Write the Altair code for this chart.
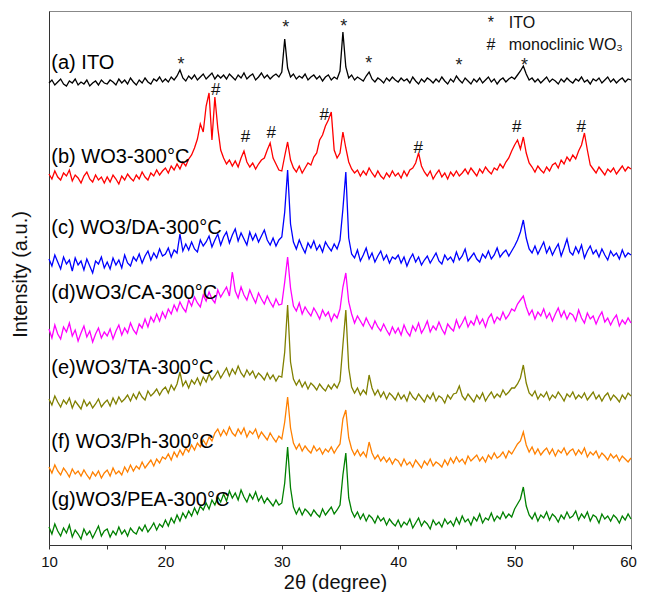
import altair as alt
import pandas as pd

# 2-theta sampling grid (degrees), 0.25 deg step from 10 to 60
TWO_THETA = [10 + 0.25 * i for i in range(201)]

# Intensities (arbitrary units, offset traces)
ITO = [
    462, 465, 460, 463, 466, 461, 459, 464, 462, 466, 460, 463, 461, 465, 459, 462, 464, 460, 465, 462,
    461, 465, 463, 460, 466, 462, 465, 461, 467, 463, 460, 465, 462, 467, 463, 461, 466, 464, 468, 463,
    466, 463, 468, 465, 469, 475, 467, 464, 469, 466, 470, 465, 468, 471, 466, 469, 472, 466, 470, 467,
    470, 466, 471, 468, 465, 470, 467, 472, 466, 469, 471, 465, 468, 472, 467, 470, 466, 469, 471, 468,
    473, 506, 477, 468, 471, 466, 469, 467, 471, 465, 468, 470, 466, 469, 464, 468, 470, 465, 468, 466,
    474, 513, 478, 467, 470, 465, 468, 466, 464, 469, 473, 466, 463, 467, 465, 462, 467, 464, 468, 465,
    463, 467, 464, 466, 462, 468, 464, 461, 466, 463, 467, 465, 462, 466, 463, 468, 464, 461, 466, 463,
    469, 465, 462, 467, 464, 461, 466, 463, 467, 462, 465, 468, 463, 466, 461, 465, 467, 463, 466, 468,
    466, 470, 474, 479, 471, 465, 467, 463, 466, 462, 465, 468, 463, 466, 464, 461, 466, 463, 467, 464,
    462, 466, 464, 468, 463, 465, 461, 466, 464, 467, 462, 465, 468, 463, 466, 462, 465, 467, 463, 466,
    465,
]
WO3 = [
    371, 366, 374, 368, 365, 372, 369, 375, 364, 370, 367, 362, 369, 373, 366, 363, 370, 365, 368, 362,
    368, 363, 370, 366, 361, 369, 365, 371, 367, 364, 370, 366, 373, 368, 365, 372, 369, 375, 370, 374,
    377, 372, 379, 375, 381, 376, 383, 379, 386, 390, 397, 406, 421, 413, 439, 452, 405, 448, 417, 395,
    387, 381, 385, 379, 384, 378, 387, 394, 383, 378, 382, 376, 381, 385, 387, 395, 402, 387, 381, 375,
    374, 389, 403, 385, 377, 373, 379, 372, 377, 382, 380, 388, 392, 405, 410, 419, 425, 433, 395, 387,
    392, 413, 397, 383, 376, 372, 375, 369, 374, 370, 377, 372, 368, 374, 369, 366, 372, 368, 374, 369,
    372, 367, 374, 369, 375, 377, 382, 392, 379, 373, 369, 374, 366, 371, 375, 368, 372, 366, 373, 369,
    374, 369, 372, 376, 371, 377, 373, 369, 376, 372, 378, 374, 371, 377, 375, 381, 377, 383, 387, 394,
    400, 405, 396, 408, 392, 382, 378, 373, 379, 375, 372, 378, 374, 380, 382, 377, 385, 381, 388, 384,
    390, 386, 394, 400, 412, 395, 380, 376, 372, 378, 374, 370, 376, 373, 377, 371, 375, 379, 374, 378,
    376,
]
DA = [
    286, 279, 290, 283, 276, 288, 281, 285, 274, 287, 280, 284, 275, 286, 279, 272, 284, 281, 288, 277,
    283, 276, 287, 280, 285, 277, 290, 282, 279, 288, 284, 291, 282, 289, 294, 285, 292, 287, 296, 289,
    291, 297, 288, 295, 292, 311, 294, 301, 295, 303, 296, 293, 305, 299, 303, 309, 298, 305, 311, 300,
    308, 313, 302, 310, 316, 304, 312, 306, 300, 313, 305, 311, 303, 309, 315, 305, 300, 307, 299, 305,
    308, 333, 375, 321, 303, 296, 305, 298, 292, 302, 297, 304, 295, 300, 293, 303, 298, 294, 301, 296,
    305, 336, 373, 307, 291, 287, 295, 284, 290, 297, 286, 292, 283, 289, 294, 285, 290, 282, 288, 286,
    290, 282, 288, 279, 286, 291, 283, 288, 280, 285, 289, 282, 287, 292, 284, 281, 290, 285, 288, 283,
    293, 285, 289, 296, 284, 288, 292, 286, 283, 291, 287, 294, 286, 290, 297, 288, 292, 295, 289, 294,
    299, 305, 313, 325, 307, 296, 292, 299, 291, 297, 303, 292, 298, 290, 296, 301, 289, 297, 306, 293,
    290, 298, 292, 300, 287, 294, 299, 291, 295, 288, 296, 290, 285, 294, 289, 292, 286, 295, 288, 292,
    290,
]
CA = [
    216, 207, 220, 211, 206, 218, 213, 222, 209, 215, 204, 212, 219, 208, 214, 203, 211, 217, 207, 213,
    209, 216, 206, 214, 220, 210, 217, 212, 222, 215, 211, 221, 217, 226, 218, 228, 223, 231, 224, 233,
    227, 236, 231, 240, 234, 243, 237, 233, 245, 239, 248, 242, 238, 250, 244, 253, 246, 242, 255, 248,
    253, 258, 249, 273, 254, 247, 258, 250, 245, 255, 248, 242, 252, 246, 241, 249, 243, 238, 246, 240,
    241, 263, 288, 257, 239, 234, 242, 231, 238, 233, 229, 237, 232, 226, 235, 229, 233, 224, 231, 227,
    236, 258, 272, 243, 231, 222, 229, 224, 219, 227, 221, 216, 224, 218, 214, 221, 215, 210, 218, 212,
    217, 210, 220, 213, 209, 219, 214, 222, 212, 217, 224, 213, 219, 215, 223, 216, 211, 221, 217, 214,
    225, 217, 222, 228, 218, 224, 220, 229, 221, 226, 218, 227, 231, 222, 228, 225, 233, 226, 230, 236,
    234, 241, 245, 249, 238, 230, 235, 226, 233, 229, 236, 227, 232, 224, 231, 237, 228, 234, 226, 232,
    230, 224, 235, 227, 222, 232, 226, 229, 221, 228, 233, 223, 227, 220, 226, 230, 219, 225, 221, 227,
    222,
]
TA = [
    146, 140, 149, 143, 138, 145, 141, 147, 137, 144, 140, 136, 145, 139, 143, 137, 141, 146, 138, 142,
    145, 139, 147, 141, 148, 143, 146, 150, 144, 151, 146, 153, 148, 145, 154, 149, 152, 156, 150, 155,
    158, 152, 160, 155, 161, 173, 159, 164, 157, 165, 161, 167, 160, 168, 163, 171, 165, 169, 174, 167,
    172, 177, 169, 176, 171, 179, 172, 168, 175, 170, 174, 167, 172, 169, 165, 172, 166, 170, 164, 169,
    168, 193, 240, 183, 166, 160, 165, 158, 163, 156, 162, 159, 155, 161, 157, 154, 160, 156, 161, 157,
    164, 200, 235, 177, 158, 152, 157, 150, 155, 151, 170, 157, 150, 155, 148, 153, 146, 152, 149, 145,
    152, 146, 150, 144, 153, 148, 145, 151, 147, 143, 150, 146, 152, 144, 149, 147, 142, 150, 146, 151,
    152, 159, 149, 145, 151, 147, 143, 150, 146, 152, 144, 149, 153, 147, 151, 148, 155, 150, 153, 157,
    157, 161, 167, 180, 162, 152, 149, 154, 146, 151, 148, 153, 145, 150, 147, 153, 149, 144, 151, 148,
    153, 146, 150, 147, 152, 145, 149, 153, 146, 150, 144, 149, 152, 145, 150, 147, 143, 150, 146, 152,
    149,
]
PH = [
    78, 72, 80, 74, 70, 77, 73, 68, 76, 71, 74, 69, 75, 70, 66, 73, 69, 74, 67, 72,
    75, 69, 77, 71, 74, 70, 78, 73, 80, 74, 79, 76, 83, 77, 81, 85, 79, 86, 82, 88,
    86, 91, 85, 93, 88, 95, 90, 97, 93, 100, 95, 102, 98, 105, 100, 108, 104, 112, 116, 109,
    115, 110, 118, 112, 109, 116, 111, 117, 108, 114, 111, 116, 107, 113, 109, 105, 112, 107, 103, 109,
    106, 123, 148, 117, 102, 96, 101, 94, 99, 95, 92, 99, 94, 97, 91, 96, 93, 98, 92, 97,
    101, 126, 135, 107, 96, 90, 95, 89, 93, 88, 103, 92, 86, 90, 84, 88, 83, 87, 81, 86,
    84, 79, 86, 80, 83, 78, 85, 81, 77, 84, 80, 86, 79, 83, 81, 78, 85, 80, 87, 82,
    88, 83, 86, 81, 89, 84, 87, 90, 84, 88, 83, 90, 86, 92, 87, 89, 93, 87, 94, 91,
    96, 101, 104, 113, 100, 93, 98, 91, 96, 90, 94, 97, 91, 96, 89, 95, 92, 97, 90, 94,
    96, 90, 95, 91, 97, 88, 93, 90, 94, 87, 92, 89, 85, 91, 87, 90, 84, 89, 86, 83,
    87,
]
PEA = [
    18, 11, 21, 14, 9, 17, 12, 20, 8, 15, 11, 6, 16, 10, 14, 7, 13, 19, 9, 14,
    16, 8, 14, 10, 18, 11, 15, 9, 17, 13, 11, 18, 14, 20, 13, 17, 22, 15, 21, 18,
    25, 19, 27, 22, 30, 24, 32, 27, 34, 29, 37, 31, 39, 35, 42, 36, 45, 40, 48, 43,
    51, 44, 54, 47, 52, 45, 55, 48, 43, 51, 46, 53, 44, 49, 42, 47, 43, 39, 45, 40,
    42, 62, 98, 57, 38, 31, 37, 30, 36, 33, 29, 35, 31, 28, 36, 30, 34, 38, 31, 35,
    40, 70, 92, 47, 34, 28, 33, 26, 31, 24, 30, 27, 22, 29, 24, 27, 20, 26, 22, 19,
    25, 18, 23, 20, 26, 17, 22, 27, 19, 24, 21, 16, 25, 20, 23, 18, 26, 21, 24, 19,
    27, 21, 29, 23, 26, 20, 28, 24, 31, 22, 27, 25, 32, 24, 29, 26, 33, 27, 31, 28,
    36, 41, 46, 58, 39, 30, 26, 32, 24, 30, 27, 33, 25, 31, 28, 23, 30, 26, 33, 27,
    29, 34, 25, 31, 27, 33, 24, 30, 28, 22, 31, 26, 29, 24, 30, 27, 22, 29, 25, 31,
    26,
]

SERIES = ["a", "b", "c", "d", "e", "f", "g"]
COLORS = ["#000000", "#FF0000", "#0000FF", "#FF00FF", "#808000", "#FF8000", "#008000"]

LABEL_TEXT = ["(a) ITO", "(b) WO3-300°C", "(c) WO3/DA-300°C", "(d)WO3/CA-300°C",
              "(e)WO3/TA-300°C", "(f) WO3/Ph-300°C", "(g)WO3/PEA-300°C"]
LABEL_X = [10.2, 10.2, 10.2, 10.2, 10.2, 10.2, 10.2]
LABEL_Y = [482, 388, 317, 252, 177, 103, 45]

STAR_X = [21.33, 30.33, 35.33, 37.46, 45.23, 50.85]
STAR_Y = [485, 522, 523, 486, 484, 484]
HASH_X = [24.32, 26.88, 29.10, 33.64, 41.73, 50.18, 55.73]
HASH_Y = [455, 408, 412, 430, 397, 418, 418]

KEY_SYMBOL = ["*", "#"]
KEY_TEXT = ["ITO", "monoclinic WO\u2083"]
KEY_SYMBOL_X = [47.96, 47.96]
KEY_TEXT_X = [49.5, 49.5]
KEY_Y = [522, 500]

X_TICKS = [10, 15, 20, 25, 30, 35, 40, 45, 50, 55, 60]

FONT = "Liberation Sans"

rows = []
for name, vals in zip(SERIES, [ITO, WO3, DA, CA, TA, PH, PEA]):
    for x, y in zip(TWO_THETA, vals):
        rows.append({"series": name, "x": x, "y": y})
df = pd.DataFrame(rows)

labels_df = pd.DataFrame({"x": LABEL_X, "y": LABEL_Y, "t": LABEL_TEXT})
stars_df = pd.DataFrame({"x": STAR_X, "y": STAR_Y, "t": ["*"] * len(STAR_X)})
hash_df = pd.DataFrame({"x": HASH_X, "y": HASH_Y, "t": ["#"] * len(HASH_X)})
keysym_df = pd.DataFrame({"x": KEY_SYMBOL_X, "y": KEY_Y, "t": KEY_SYMBOL})
keytxt_df = pd.DataFrame({"x": KEY_TEXT_X, "y": KEY_Y, "t": KEY_TEXT})

X_ENC = alt.X(
    "x:Q",
    scale=alt.Scale(domain=[10, 60], nice=False, zero=False),
    axis=alt.Axis(
        title="2θ (degree)",
        values=X_TICKS,
        labelExpr="datum.value % 10 === 0 ? datum.label : ''",
        labelFlush=False,
        labelOverlap=False,
        labelOffset={"expr": "datum.value == 60 ? -3 : 0"},
        tickSize=4,
        labelPadding=5,
        labelFontSize=15,
        titleFontSize=20,
        titleX=286,
        titleY=37,
        titleBaseline="middle",
        grid=False,
    ),
)
Y_ENC = alt.Y(
    "y:Q",
    scale=alt.Scale(domain=[0, 534], nice=False, zero=False),
    axis=alt.Axis(
        title="Intensity (a.u.)",
        labels=False,
        ticks=False,
        grid=False,
        titleFontSize=20,
        titleX=-29,
        titleY=263,
        titleAngle=-90,
        titleBaseline="middle",
        titleAlign="center",
    ),
)

lines = alt.Chart(df).mark_line(strokeWidth=1.3).encode(
    x=X_ENC,
    y=Y_ENC,
    color=alt.Color("series:N", scale=alt.Scale(domain=SERIES, range=COLORS), legend=None),
)

labels = alt.Chart(labels_df).mark_text(
    font=FONT, fontSize=20, align="left", baseline="middle", color="black"
).encode(x=X_ENC, y=Y_ENC, text="t:N")

stars = alt.Chart(stars_df).mark_text(
    font=FONT, fontSize=18, align="center", baseline="middle", color="#222", dy=5
).encode(x=X_ENC, y=Y_ENC, text="t:N")

hashes = alt.Chart(hash_df).mark_text(
    font=FONT, fontSize=17, align="center", baseline="middle", color="#111"
).encode(x=X_ENC, y=Y_ENC, text="t:N")

keysym = alt.Chart(keysym_df).mark_text(
    font=FONT, fontSize=16, align="center", baseline="middle", color="#111"
).encode(x=X_ENC, y=Y_ENC, text="t:N")

keytxt = alt.Chart(keytxt_df).mark_text(
    font=FONT, fontSize=16, align="left", baseline="middle", color="#111"
).encode(x=X_ENC, y=Y_ENC, text="t:N")

chart = (
    alt.layer(lines, labels, stars, hashes, keysym, keytxt)
    .properties(
        width=582,
        height=534,
        padding={"left": 41, "top": 3, "right": 6, "bottom": 48},
        autosize=alt.AutoSizeParams(type="none"),
    )
    .configure_view(stroke="#888888", strokeWidth=1)
    .configure_axis(
        domainColor="#333333",
        tickColor="#333333",
        labelColor="#111111",
        titleColor="#111111",
        labelFont=FONT,
        titleFont=FONT,
        titleFontWeight="normal",
    )
)

chart.save("out.html", embed_options={"renderer": "svg", "actions": False})
